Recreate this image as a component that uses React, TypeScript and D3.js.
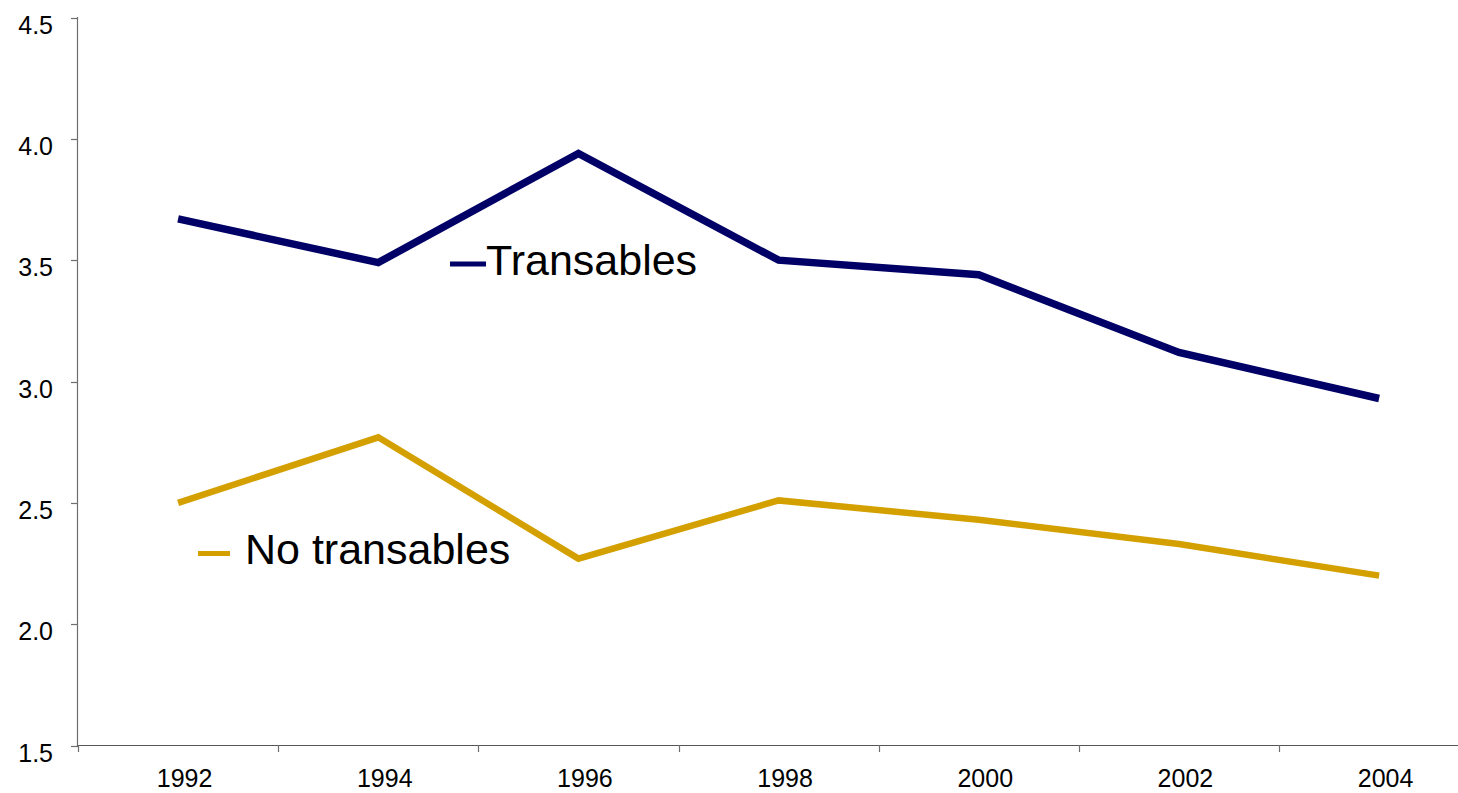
import React from "react";
import * as d3 from "d3";

const years = ["1992", "1994", "1996", "1998", "2000", "2002", "2004"];
const transables = [3.67, 3.49, 3.94, 3.5, 3.44, 3.12, 2.93];
const noTransables = [2.5, 2.77, 2.27, 2.51, 2.43, 2.33, 2.2];
const yTicks = [1.5, 2.0, 2.5, 3.0, 3.5, 4.0, 4.5];

const W = 1458;
const H = 793;
const FONT = "'Liberation Sans', Arial, sans-serif";

export default function App() {
  const x = d3
    .scaleBand<string>()
    .domain(years)
    .range([78, 78 + 7 * 200.17])
    .paddingInner(0)
    .paddingOuter(0);
  const y = d3.scaleLinear().domain([1.5, 4.5]).range([745.5, 17.5]);
  const cx = (d: string) => (x(d) as number) + x.bandwidth() / 2;

  const line = d3
    .line<number>()
    .x((_, i) => cx(years[i]))
    .y((v) => y(v));

  const xTickPos = years.map((d) => x(d) as number);

  return (
    <svg
      width={W}
      height={H}
      style={{ position: "absolute", left: 0, top: 0, background: "#fff" }}
      fontFamily={FONT}
    >
      {/* y axis */}
      <line x1={77.5} x2={77.5} y1={17} y2={746} stroke="#6e6e6e" strokeWidth={1.2} />
      {yTicks.map((t) => (
        <g key={t}>
          <line x1={71} x2={78} y1={Math.round(y(t)) + 0.5} y2={Math.round(y(t)) + 0.5} stroke="#6e6e6e" strokeWidth={1.2} />
          <text x={53} y={y(t) + 16} textAnchor="end" fontSize={25} fill="#000">
            {t.toFixed(1)}
          </text>
        </g>
      ))}
      {/* x axis */}
      <line x1={77} x2={W} y1={745.5} y2={745.5} stroke="#555" strokeWidth={1.2} />
      {xTickPos.map((p, i) => (
        <line key={i} x1={Math.round(p) + 0.5} x2={Math.round(p) + 0.5} y1={745} y2={752} stroke="#6e6e6e" strokeWidth={1.2} />
      ))}
      {years.map((d) => (
        <text key={d} x={cx(d) + 6.5} y={787} textAnchor="middle" fontSize={25} fill="#000">
          {d}
        </text>
      ))}
      {/* series */}
      <path d={line(transables) as string} fill="none" stroke="#000066" strokeWidth={7.5} strokeLinejoin="miter" strokeLinecap="butt" />
      <path d={line(noTransables) as string} fill="none" stroke="#D4A000" strokeWidth={6.5} strokeLinejoin="miter" strokeLinecap="butt" />
      {/* labels */}
      <line x1={450} x2={486} y1={264} y2={264} stroke="#000066" strokeWidth={5} />
      <text x={486} y={275} fontSize={43} fill="#000">Transables</text>
      <line x1={198} x2={230} y1={553.5} y2={553.5} stroke="#D4A000" strokeWidth={5} />
      <text x={245} y={564} fontSize={43} fill="#000">No transables</text>
    </svg>
  );
}
